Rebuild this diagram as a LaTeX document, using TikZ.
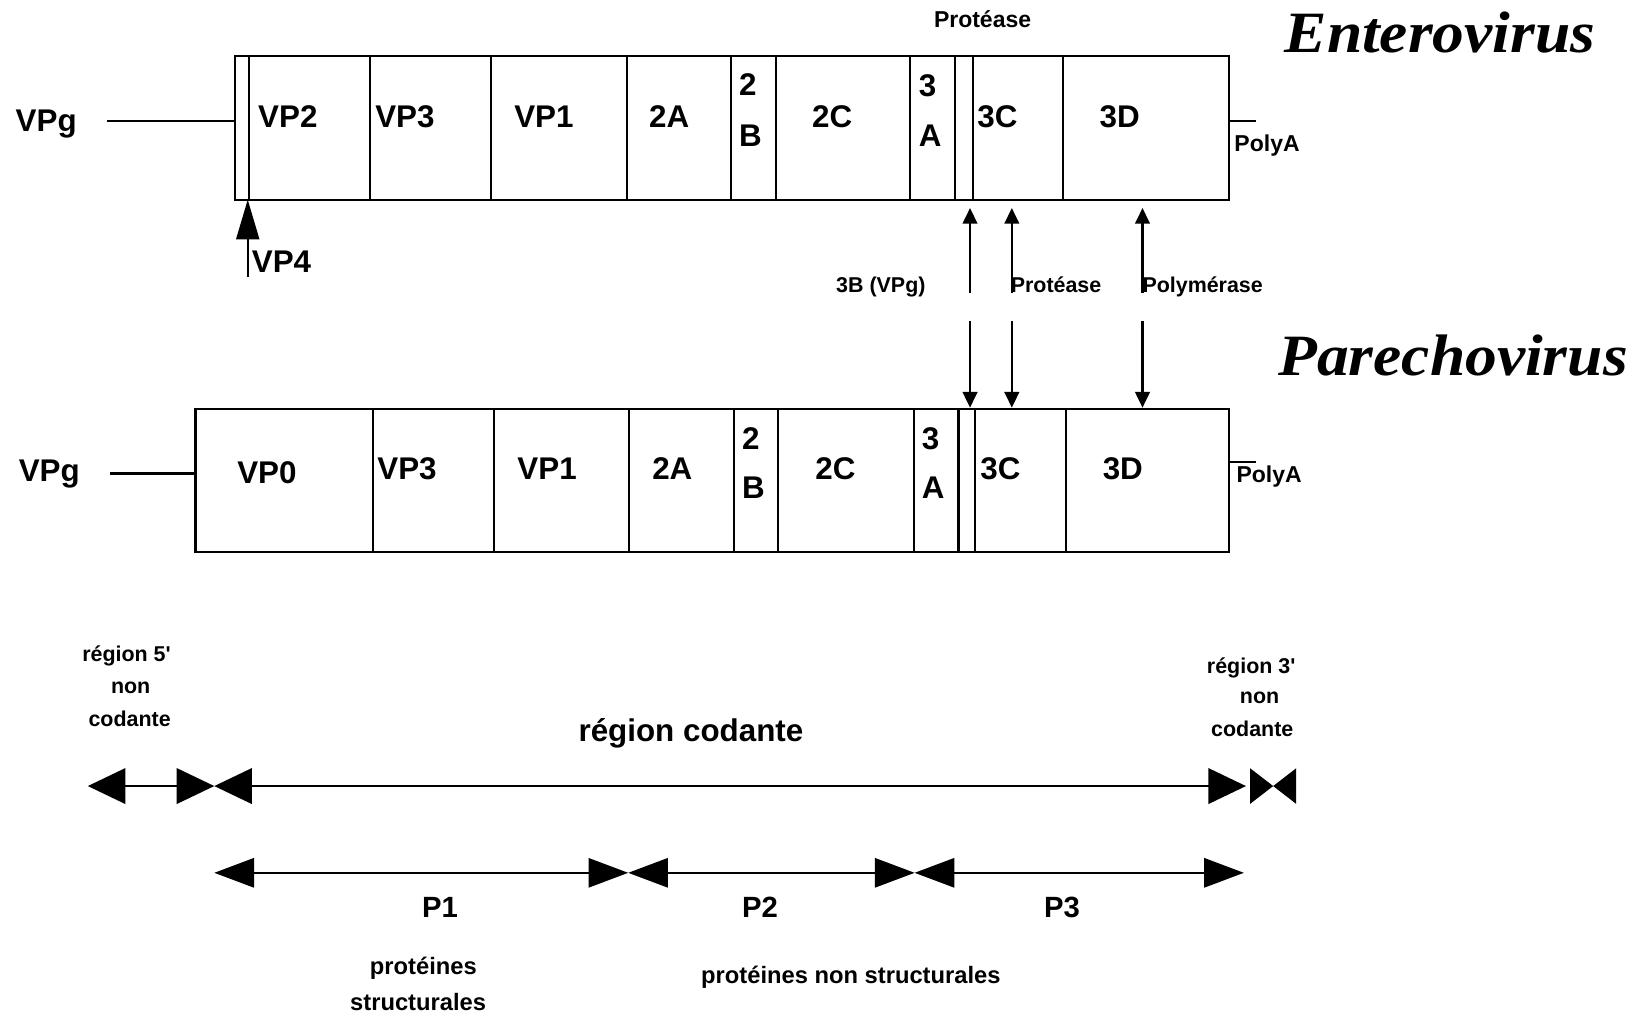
\documentclass[tikz,border=0pt]{standalone}
\usepackage{graphicx}
\usepackage{fontspec}
\setmainfont{Liberation Sans}
\newfontfamily\nolig{Liberation Sans}
\newfontfamily\ttlfont{Liberation Serif}
\usetikzlibrary{arrows.meta}
\newcommand{\myfs}[1]{\fontsize{#1}{#1}\selectfont\bfseries}
\newcommand{\sq}{{\nolig\bfseries\symbol{39}}}
\begin{document}
\begin{tikzpicture}[x=1pt,y=-1pt,line width=2pt,
  lb/.style={inner sep=0pt,anchor=base west},
  lc/.style={inner sep=0pt,anchor=base},
  small/.style={-{Triangle[length=15pt,width=14pt]}},
  mainarr/.style={{Triangle[length=36pt,width=34pt]}-{Triangle[length=36pt,width=34pt]}},
  parr/.style={{Triangle[length=38pt,width=28pt]}-{Triangle[length=38pt,width=28pt]}},
  fA/.style={font=\myfs{30}},
  fB/.style={font=\myfs{22}},
  fC/.style={font=\myfs{20.5}},
  ttl/.style={font=\ttlfont\myfs{56}\itshape}
]
\useasboundingbox (0,0) rectangle (1568,971);

% ---------- Enterovirus genome ----------
\draw (225,54) rectangle (1176,191);
\foreach \x in {238,354,470,600,699,742,871,914,931,1017} \draw (\x,54) -- (\x,191);
\coordinate (vpgTa) at (102,116);
\coordinate (vpgTb) at (225,116);
\draw (vpgTa) -- (vpgTb);
\coordinate (polyTa) at (1176,116);
\coordinate (polyTb) at (1202,116);
\draw (polyTa) -- (polyTb);

\node[lb,fA] (vpgT) at (14,126) {VPg};
\node[lb,fA] (vp2) at (246,122) {VP2};
\node[lb,fA] (vp3T) at (358,122) {VP3};
\node[lb,fA] (vp1T) at (491,122) {VP1};
\node[lb,fA] (a2T) at (620,122) {2A};
\node[lb,fA] (b2T1) at (706,91) {2};
\node[lb,fA] (b2T2) at (706,140) {B};
\node[lb,fA] (c2T) at (776,122) {2C};
\node[lb,fA] (a3T1) at (878,92) {3};
\node[lb,fA] (a3T2) at (878,140) {A};
\node[lb,fA] (c3T) at (934,122) {3C};
\node[lb,fA] (d3T) at (1051,122) {3D};
\node[lb,fB] (polyT) at (1180,145) {PolyA};
\node[lc,fB] (protTop) at (940,26) {Protéase};
\node[lb,ttl] (ent) at (1228,50) {\scalebox{1.085}[1]{Enterovirus}};

% VP4 arrow
\coordinate (vp4a) at (237,265);
\coordinate (vp4b) at (237,191);
\draw[-{Triangle[length=38pt,width=22pt]}] (vp4a) -- (vp4b);
\node[lb,fA] (vp4) at (240,261) {VP4};

% arrows up to Enterovirus
\coordinate (u1a) at (928,280); \coordinate (u1b) at (928,199);
\coordinate (u2a) at (968,280); \coordinate (u2b) at (968,199);
\coordinate (u3a) at (1093,280); \coordinate (u3b) at (1093,199);
\draw[small] (u1a) -- (u1b);
\draw[small] (u2a) -- (u2b);
\draw[small] (u3a) -- (u3b);
\node[lb,fC] (b3) at (799,280) {3B (VPg)};
\node[lb,fC] (prot) at (966,280) {Protéase};
\node[lb,fC] (pol) at (1092,280) {Polymérase};

% arrows down to Parechovirus
\coordinate (d1a) at (928,307); \coordinate (d1b) at (928,390);
\coordinate (d2a) at (968,307); \coordinate (d2b) at (968,390);
\coordinate (d3a) at (1093,307); \coordinate (d3b) at (1093,390);
\draw[small] (d1a) -- (d1b);
\draw[small] (d2a) -- (d2b);
\draw[small] (d3a) -- (d3b);

% ---------- Parechovirus genome ----------
\node[lb,ttl] (par) at (1222,359) {\scalebox{1.085}[1]{Parechovirus}};
\draw (187,391) rectangle (1176,528);
\foreach \x in {357,473,602,702,744,874,917,933,1020} \draw (\x,391) -- (\x,528);
\coordinate (vpgBa) at (105,453);
\coordinate (vpgBb) at (187,453);
\draw (vpgBa) -- (vpgBb);
\coordinate (polyBa) at (1176,442);
\coordinate (polyBb) at (1202,442);
\draw (polyBa) -- (polyBb);

\node[lb,fA] (vpgB) at (17,461) {VPg};
\node[lb,fA] (vp0) at (226,463) {VP0};
\node[lb,fA] (vp3B) at (360,459) {VP3};
\node[lb,fA] (vp1B) at (494,459) {VP1};
\node[lb,fA] (a2B) at (623,459) {2A};
\node[lb,fA] (b2B1) at (709,430) {2};
\node[lb,fA] (b2B2) at (709,477) {B};
\node[lb,fA] (c2B) at (779,459) {2C};
\node[lb,fA] (a3B1) at (881,430) {3};
\node[lb,fA] (a3B2) at (881,477) {A};
\node[lb,fA] (c3B) at (937,459) {3C};
\node[lb,fA] (d3B) at (1054,459) {3D};
\node[lb,fB] (polyB) at (1182,462) {PolyA};

% ---------- regions ----------
\node[lc,fC] (r5a) at (121,633) {région 5\sq};
\node[lc,fC] (r5b) at (125,663) {non};
\node[lc,fC] (r5c) at (124,695) {codante};
\node[lc,fA] (rc) at (661,709) {région codante};
\node[lc,fC] (r3a) at (1197,644) {région 3\sq};
\node[lc,fC] (r3b) at (1205,673) {non};
\node[lc,fC] (r3c) at (1198,705) {codante};

\coordinate (m0) at (84,752);
\coordinate (m1) at (205,752);
\coordinate (m2) at (1192,752);
\draw[mainarr] (m0) -- (m1);
\draw[mainarr] (m1) -- (m2);
\fill (1196,735) -- (1218,752) -- (1196,769) -- cycle;
\fill (1240,735) -- (1218,752) -- (1240,769) -- cycle;

\coordinate (p0) at (205,835);
\coordinate (p1) at (601,835);
\coordinate (p2) at (875,835);
\coordinate (p3) at (1190,835);
\draw[parr] (p0) -- (p1);
\draw[parr] (p1) -- (p2);
\draw[parr] (p2) -- (p3);

\node[lc,font=\myfs{28}] (P1) at (421,878) {P1};
\node[lc,font=\myfs{28}] (P2) at (727,878) {P2};
\node[lc,font=\myfs{28}] (P3) at (1016,878) {P3};
\node[lc,font=\myfs{22.7}] (ps1) at (405,932) {protéines};
\node[lc,font=\myfs{22.7}] (ps2) at (400,967) {structurales};
\node[lc,font=\myfs{22.7}] (pns) at (814,941) {protéines non structurales};
\end{tikzpicture}
\end{document}
